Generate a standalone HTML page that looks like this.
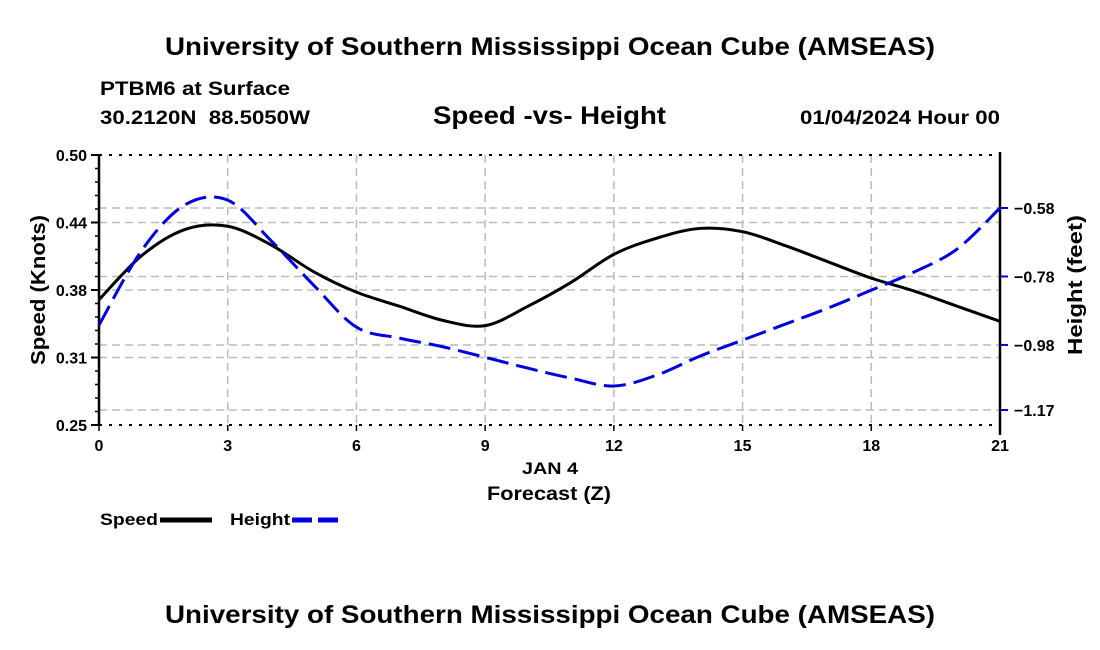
<!DOCTYPE html>
<html><head><meta charset="utf-8"><style>
body{margin:0;background:#fff;}
svg{display:block;font-family:"Liberation Sans",Arial,sans-serif;font-weight:bold;}
</style></head><body>
<svg id="chart" width="1100" height="650" viewBox="0 0 1100 650">
<text x="165" y="55" font-size="25" textLength="770" lengthAdjust="spacingAndGlyphs">University of Southern Mississippi Ocean Cube (AMSEAS)</text>
<text x="100" y="95" font-size="19" textLength="190" lengthAdjust="spacingAndGlyphs">PTBM6 at Surface</text>
<text x="100" y="124" font-size="19" textLength="210" lengthAdjust="spacingAndGlyphs" xml:space="preserve">30.2120N  88.5050W</text>
<text x="433" y="124" font-size="25" textLength="233" lengthAdjust="spacingAndGlyphs">Speed -vs- Height</text>
<text x="800" y="124" font-size="19" textLength="200" lengthAdjust="spacingAndGlyphs">01/04/2024 Hour 00</text>
<g id="grid"></g><g id="axes"></g><g id="series"></g>
<text x="522" y="474" font-size="17" textLength="56" lengthAdjust="spacingAndGlyphs">JAN 4</text>
<text x="487" y="500" font-size="19" textLength="124" lengthAdjust="spacingAndGlyphs">Forecast (Z)</text>
<text transform="translate(45,290) rotate(-90)" font-size="20" text-anchor="middle" textLength="150" lengthAdjust="spacingAndGlyphs">Speed (Knots)</text>
<text transform="translate(1082,285) rotate(-90)" font-size="20" text-anchor="middle" textLength="140" lengthAdjust="spacingAndGlyphs">Height (feet)</text>
<g><text x="100" y="525" font-size="17" textLength="58" lengthAdjust="spacingAndGlyphs">Speed</text><line x1="160" y1="520" x2="212" y2="520" stroke="#000" stroke-width="5"/></g>
<g><text x="230" y="525" font-size="17" textLength="60" lengthAdjust="spacingAndGlyphs">Height</text><line x1="292" y1="520" x2="344" y2="520" stroke="#0000dd" stroke-width="5" stroke-dasharray="20,6"/></g>
<text x="165" y="623" font-size="25" textLength="770" lengthAdjust="spacingAndGlyphs">University of Southern Mississippi Ocean Cube (AMSEAS)</text>
</svg>
<script>
const hours=[0,1,2,3,4,5,6,7,8,9,10,11,12,13,14,15,16,17,18,19,20,21];
const speed=[0.366,0.407,0.431,0.434,0.417,0.392,0.373,0.360,0.347,0.342,0.360,0.382,0.408,0.423,0.432,0.429,0.416,0.401,0.386,0.374,0.360,0.346];
const height=[-0.922,-0.703,-0.571,-0.557,-0.674,-0.805,-0.928,-0.960,-0.985,-1.016,-1.048,-1.077,-1.100,-1.068,-1.013,-0.966,-0.919,-0.872,-0.820,-0.767,-0.700,-0.58];
const xTicks=[0,3,6,9,12,15,18,21];
const leftTicks=[0.25,0.3125,0.375,0.4375,0.50];
const leftLabels=["0.25","0.31","0.38","0.44","0.50"];
const rightTicks=[-0.58,-0.78,-0.98,-1.17];
const rightLabels=["\u22120.58","\u22120.78","\u22120.98","\u22121.17"];
const X0=99,X1=1000,YT=155,YB=425;
const xs=h=>X0+(h-0)/21*(X1-X0);
const yl=v=>YB-(v-0.25)/0.25*(YB-YT);
const yr=v=>208+(-0.58-v)/0.59*202;
const NS="http://www.w3.org/2000/svg";
function mk(p,t,a){const e=document.createElementNS(NS,t);for(const k in a)e.setAttribute(k,a[k]);p.appendChild(e);return e;}
const grid=document.getElementById('grid'),axes=document.getElementById('axes'),ser=document.getElementById('series');
xTicks.forEach((h,i)=>{
 if(i>0&&i<xTicks.length-1){const l=mk(grid,'line',{x1:xs(h),x2:xs(h),y1:YT,y2:YB,stroke:'#bbb','stroke-width':1.5,'stroke-dasharray':'8,5'});
 
 }
 const t=mk(axes,'text',{x:xs(h),y:YB+26,'font-size':16,'text-anchor':'middle'});t.textContent=h;
 
 
 mk(axes,'line',{x1:xs(h),x2:xs(h),y1:YB,y2:YB+6,stroke:'#000','stroke-width':1.5});
});
leftTicks.forEach((v,i)=>{
 if(i>0&&i<leftTicks.length-1){const l=mk(grid,'line',{x1:X0,x2:X1,y1:yl(v),y2:yl(v),stroke:'#bbb','stroke-width':1.5,'stroke-dasharray':'8,5'});
 
 }
 mk(axes,'line',{x1:X0-8,x2:X0,y1:yl(v),y2:yl(v),stroke:'#000','stroke-width':2});
 const t=mk(axes,'text',{x:X0-12,y:yl(v)+6,'font-size':16,'text-anchor':'end'});t.textContent=leftLabels[i];
 
 
});
rightTicks.forEach((v,i)=>{
 const l=mk(grid,'line',{x1:X0,x2:X1,y1:yr(v),y2:yr(v),stroke:'#bbb','stroke-width':1.5,'stroke-dasharray':'8,5'});
 
 
 mk(axes,'line',{x1:X1,x2:X1+8,y1:yr(v),y2:yr(v),stroke:'#0000cc','stroke-width':2});
 const t=mk(axes,'text',{x:X1+14,y:yr(v)+6,'font-size':16});t.textContent=rightLabels[i];
 
 
});
for(let y=YT;y<=YB;y+=13.5)mk(axes,'line',{x1:X0-4,x2:X0,y1:y,y2:y,stroke:'#000','stroke-width':1.5});
mk(axes,'line',{x1:X0,x2:X0,y1:YT,y2:YB,stroke:'#000','stroke-width':2.5});
mk(axes,'line',{x1:X1,x2:X1,y1:YT-3,y2:YB+10,stroke:'#000','stroke-width':2.5});
mk(axes,'line',{x1:X0,x2:X1,y1:YT,y2:YT,stroke:'#000','stroke-width':2,'stroke-dasharray':'3,7'});
mk(axes,'line',{x1:X0,x2:X1,y1:YB,y2:YB,stroke:'#000','stroke-width':2,'stroke-dasharray':'3,7'});
function smooth(pts){let d='M'+pts[0][0]+','+pts[0][1];
 for(let i=0;i<pts.length-1;i++){const p0=pts[Math.max(0,i-1)],p1=pts[i],p2=pts[i+1],p3=pts[Math.min(pts.length-1,i+2)];
 d+=' C'+(p1[0]+(p2[0]-p0[0])/6)+','+(p1[1]+(p2[1]-p0[1])/6)+' '+(p2[0]-(p3[0]-p1[0])/6)+','+(p2[1]-(p3[1]-p1[1])/6)+' '+p2[0]+','+p2[1];}
 return d;}
const ps=mk(ser,'path',{d:smooth(hours.map((h,i)=>[xs(h),yl(speed[i])])),fill:'none',stroke:'#000','stroke-width':3});


const ph=mk(ser,'path',{d:smooth(hours.map((h,i)=>[xs(h),yr(height[i])])),fill:'none',stroke:'#0000dd','stroke-width':3,'stroke-dasharray':'22,8'});


</script>
</body></html>
